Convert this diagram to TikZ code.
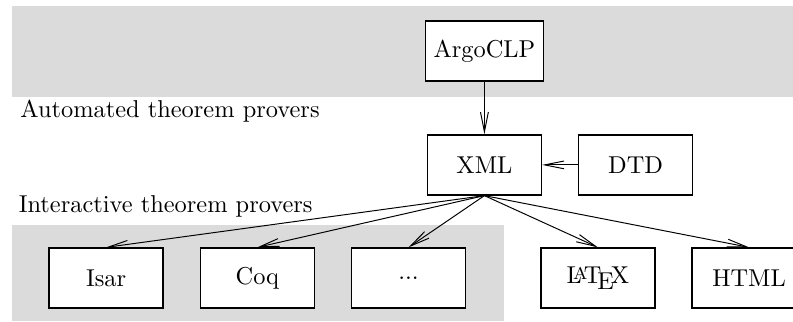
\documentclass[tikz,border=0pt]{standalone}
\usetikzlibrary{arrows.meta}

\begin{document}
\begin{tikzpicture}[
  box/.style={
    rectangle,
    draw,
    semithick,
    fill=white,
    minimum width=46.7pt,
    minimum height=24.6pt,
  },
  arr/.style={-{Straight Barb[length=8pt,width=3.2pt]}, thin},
  node distance=62pt,
  ]
  \useasboundingbox (-198.6pt,-64pt) rectangle (126.5pt,67.6pt);

  % gray bands
  \fill[gray!28] (-193.7pt,27.8pt) rectangle (126.5pt,65.1pt);
  \fill[gray!28] (-193.7pt,-64pt) rectangle (8pt,-24.7pt);

  \node[box] (xml) at (0,0) {XML};

  \node[box, above of=xml, node distance=46.7pt] (argo) {ArgoCLP};

  \node[box, right of=xml] (dtd) {DTD};

  \node[box, below of=xml, node distance=46.4pt, xshift=46.5pt] (latex) {\LaTeX};

  \node[box, right of=latex] (html) {HTML};

  \node[box, left of=latex, xshift=-15.6pt] (dots) {...};

  \node[box, left of=dots] (coq) {Coq};

  \node[box, left of=coq] (isar) {Isar};

  \node[anchor=base west, inner sep=0pt] (atp) at (-190.4pt,19.6pt) {Automated theorem provers};
  \node[anchor=base west, inner sep=0pt] (itp) at (-191.1pt,-19.4pt) {Interactive theorem provers};


  \draw[arr] (argo)--(xml);
  \draw[arr] (dtd)--(xml);
  \draw[arr] (xml.south)--(isar.north);
  \draw[arr] (xml.south)--(coq.north);
  \draw[arr] (xml.south)--(dots.north);
  \draw[arr] (xml.south)--(latex.north);
  \draw[arr] (xml.south)--(html.north);
\end{tikzpicture}
\end{document}
